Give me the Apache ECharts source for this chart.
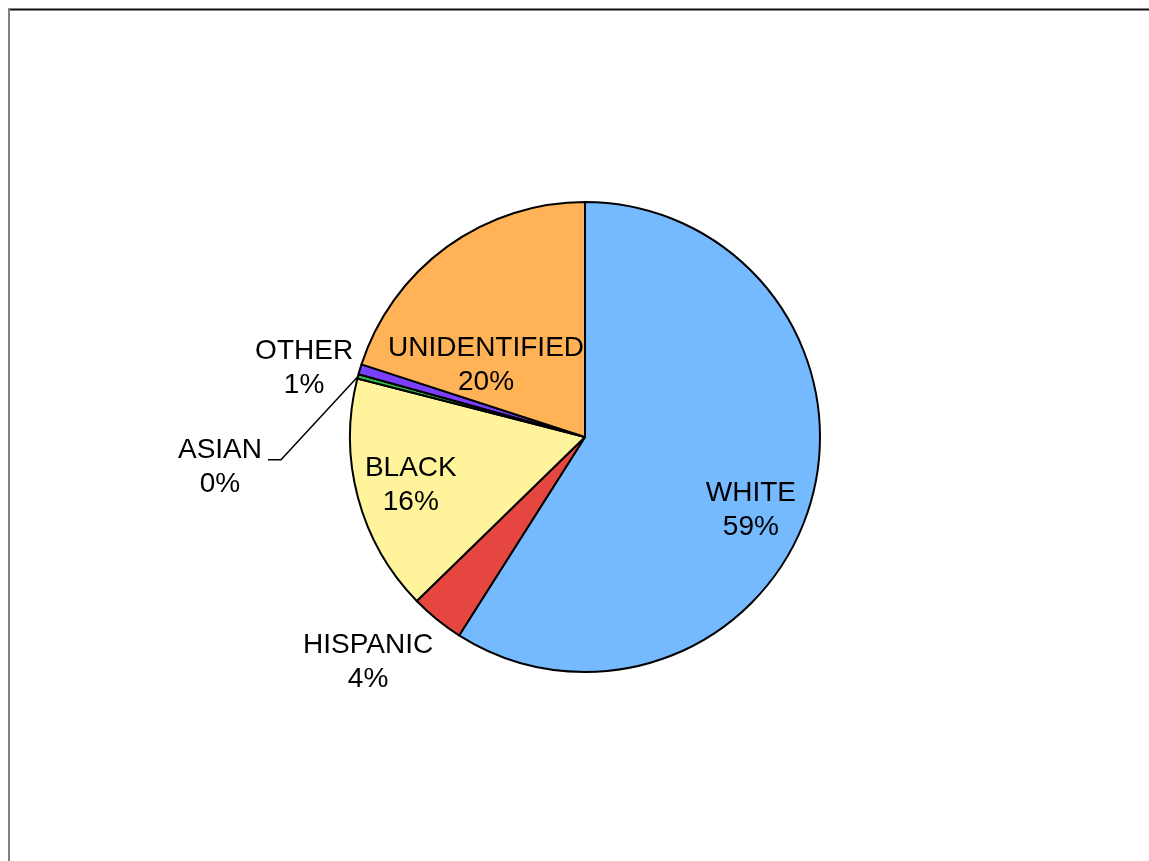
<!DOCTYPE html>
<html>
<head>
<meta charset="utf-8">
<script src="https://cdn.jsdelivr.net/npm/echarts@6/dist/echarts.min.js"></script>
<style>
html,body{margin:0;padding:0;background:#fff;}
#chart{width:1149px;height:861px;}
</style>
</head>
<body>
<div id="chart"></div>
<script>
// ---- data ----
const categories = ['WHITE', 'HISPANIC', 'BLACK', 'ASIAN', 'OTHER', 'UNIDENTIFIED'];
const values = [59.0, 3.7, 16.3, 0.3, 0.7, 20.0];
const colors = ['#75B9FF', '#E5463F', '#FFF49C', '#33C04A', '#7B3FFF', '#FFB356'];

// ---- layout (label placement in polar terms relative to pie: [angle from top, radius factor]) ----
const CX = 585, CY = 437, R = 235;
const labelPolar = {
  WHITE: [113.2, 0.768],
  HISPANIC: [224.2, 1.324],
  BLACK: [255.1, 0.767],
  ASIAN: [265.5, 1.558],
  OTHER: [284.2, 1.233],
  UNIDENTIFIED: [306.8, 0.526]
};

const total = values.reduce((a, b) => a + b, 0);
function midAngle(i) {
  let s = 0;
  for (let k = 0; k < i; k++) s += values[k];
  return (s + values[i] / 2) / total * 360;
}
function polar(a, r) {
  const rad = a * Math.PI / 180;
  return [CX + r * Math.sin(rad), CY - r * Math.cos(rad)];
}

const chart = echarts.init(document.getElementById('chart'), null, {renderer: 'canvas'});
const data = categories.map((c, i) => ({
  name: c,
  value: values[i],
  itemStyle: {color: colors[i]},
  labelLine: {show: c === 'ASIAN', lineStyle: {color: '#000', width: 1.5}}
}));

chart.setOption({
  animation: false,
  backgroundColor: '#fff',
  graphic: [
    {type: 'line', shape: {x1: 8, y1: 9.5, x2: 1160, y2: 9.5}, style: {stroke: '#111', lineWidth: 2}},
    {type: 'line', shape: {x1: 9, y1: 9, x2: 9, y2: 870}, style: {stroke: '#7f7f7f', lineWidth: 2}}
  ],
  series: [{
    type: 'pie',
    center: [CX, CY],
    radius: [0, R],
    startAngle: 90,
    clockwise: true,
    avoidLabelOverlap: false,
    itemStyle: {borderColor: '#000', borderWidth: 2},
    label: {
      show: true,
      position: 'outside',
      color: '#000',
      fontFamily: 'Liberation Sans, Arial, sans-serif',
      fontSize: 28,
      lineHeight: 34,
      align: 'center',
      formatter: p => p.name + '\n' + Math.round(p.value / total * 100) + '%'
    },
    emphasis: {disabled: true},
    labelLayout: function (params) {
      const i = params.dataIndex;
      const name = categories[i];
      const lp = labelPolar[name];
      const pos = polar(lp[0], R * lp[1]);
      pos[1] += 2;
      const res = {x: pos[0], y: pos[1], align: 'center', verticalAlign: 'middle'};
      if (name === 'ASIAN') {
        const p0 = polar(midAngle(i), R);
        const base = pos[1] - 8;
        res.labelLinePoints = [p0, [pos[0] + 61, base], [pos[0] + 48, base]];
      }
      return res;
    },
    data: data
  }]
});
</script>
</body>
</html>
